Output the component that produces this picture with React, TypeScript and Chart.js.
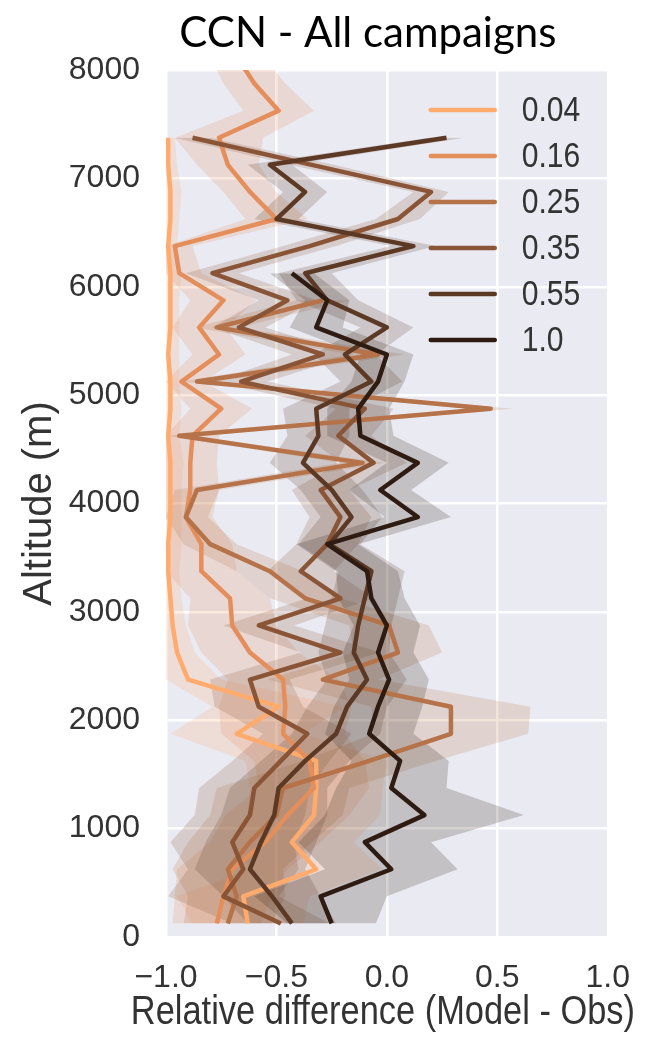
import React, { useEffect, useRef } from "react";
import { Chart, registerables } from "chart.js";

Chart.register(...registerables);

// ---------- texts ----------
const chartTitle = "CCN - All campaigns";
const xAxisTitle = "Relative difference (Model - Obs)";
const yAxisTitle = "Altitude (m)";

// ---------- data ----------
// altitude bin centres (m), lowest first
const altitudes = [
  125, 375, 625, 875, 1125, 1375, 1625, 1875, 2125, 2375, 2625, 2875, 3125,
  3375, 3625, 3875, 4125, 4375, 4625, 4875, 5125, 5375, 5625, 5875, 6125,
  6375, 6625, 6875, 7125, 7375, 7625, 7875, 8125,
];

const seriesNames = ["0.04", "0.16", "0.25", "0.35", "0.55", "1.0"];

// mean relative difference per altitude bin (lowest bin first)
const diff004 = [
  -0.63, -0.65, -0.32, -0.43, -0.33, -0.32, -0.32, -0.68, -0.49, -0.9, -0.95,
  -0.97, -0.98, -0.99, -0.99, -0.98, -0.98, -0.98, -0.99, -0.98, -0.98, -0.99,
  -0.98, -0.98, -0.98, -0.99, -0.98, -0.98, -0.99, -0.99,
];
const diff016 = [
  -0.77, -0.74, -0.7, -0.55, -0.45, -0.33, -0.35, -0.47, -0.46, -0.47, -0.62,
  -0.7, -0.71, -0.84, -0.84, -0.91, -0.89, -0.89, -0.88, -0.75, -0.93, -0.76,
  -0.85, -0.74, -0.94, -0.96, -0.5, -0.62, -0.72, -0.76, -0.49, -0.6, -0.68,
];
const diff025 = [
  -0.72, -0.68, -0.72, -0.62, -0.5, -0.47, -0.08, 0.29, 0.29, -0.29, 0.05,
  0.01, -0.37, -0.53, -0.8, -0.91, -0.86, -0.11, -0.94, 0.47, -0.86, -0.04,
  -0.77, -0.29,
];
const diff035 = [
  -0.48, -0.74, -0.65, -0.7, -0.62, -0.6, -0.48, -0.36, -0.58, -0.62, -0.21,
  -0.58, -0.21, -0.39, -0.27, -0.21, -0.3, -0.06, -0.22, -0.1, -0.66, -0.29,
  -0.67, -0.45, -0.79, -0.35, 0.05, 0.2, -0.34, -0.88,
];
const diff055 = [
  -0.43, -0.52, -0.62, -0.57, -0.51, -0.49, -0.37, -0.23, -0.18, -0.09, -0.15,
  -0.13, -0.1, -0.07, -0.26, -0.16, -0.25, -0.38, -0.31, -0.32, -0.07, -0.19,
  0.0, -0.27, -0.37, 0.12, -0.5, -0.37, -0.53, 0.27,
];
const diff100 = [
  -0.25, -0.3, 0.02, -0.1, 0.17, 0.02, 0.06, -0.08, -0.04, 0.01, -0.04, 0.0,
  -0.07, -0.09, -0.27, 0.14, -0.03, 0.14, -0.12, -0.13, -0.04, 0.0, -0.32,
  -0.27, -0.43,
];

// half-width of the shaded confidence band per altitude bin
const band004 = [
  0.25, 0.3, 0.3, 0.28, 0.3, 0.3, 0.32, 0.3, 0.3, 0.15, 0.08, 0.06, 0.05, 0.05,
  0.06, 0.05, 0.05, 0.06, 0.05, 0.05, 0.04, 0.05, 0.04, 0.04, 0.05, 0.04, 0.04,
  0.05, 0.04, 0.03,
];
const band016 = [
  0.2, 0.22, 0.25, 0.25, 0.28, 0.25, 0.25, 0.28, 0.3, 0.25, 0.22, 0.2, 0.18,
  0.16, 0.14, 0.12, 0.13, 0.12, 0.12, 0.14, 0.1, 0.12, 0.12, 0.15, 0.1, 0.08,
  0.14, 0.12, 0.14, 0.2, 0.16, 0.14, 0.12,
];
const band025 = [
  0.2, 0.22, 0.25, 0.28, 0.3, 0.3, 0.3, 0.35, 0.36, 0.25, 0.2, 0.18, 0.16, 0.15,
  0.12, 0.1, 0.1, 0.1, 0.06, 0.1, 0.08, 0.12, 0.1, 0.12,
];
const band035 = [
  0.22, 0.25, 0.25, 0.28, 0.25, 0.25, 0.22, 0.2, 0.2, 0.18, 0.18, 0.16, 0.15,
  0.15, 0.14, 0.14, 0.13, 0.15, 0.15, 0.13, 0.12, 0.14, 0.12, 0.13, 0.12, 0.12,
  0.1, 0.08, 0.1, 0.08,
];
const band055 = [
  0.2, 0.22, 0.25, 0.25, 0.24, 0.22, 0.2, 0.2, 0.18, 0.18, 0.16, 0.15, 0.15,
  0.15, 0.14, 0.14, 0.14, 0.15, 0.14, 0.15, 0.14, 0.14, 0.12, 0.14, 0.12, 0.1,
  0.1, 0.1, 0.1, 0.08,
];
const band100 = [
  0.2, 0.3, 0.3, 0.3, 0.45, 0.25, 0.22, 0.2, 0.2, 0.18, 0.16, 0.15, 0.15, 0.14,
  0.14, 0.15, 0.14, 0.14, 0.15, 0.14, 0.12, 0.12, 0.12, 0.1, 0.1,
];

const seriesValues = [diff004, diff016, diff025, diff035, diff055, diff100];
const seriesBands = [band004, band016, band025, band035, band055, band100];

// ---------- ticks ----------
const xTickValues = [-1, -0.5, 0, 0.5, 1];
const xTickLabels = ["\u22121.0", "\u22120.5", "0.0", "0.5", "1.0"];
const yTickValues = [0, 1000, 2000, 3000, 4000, 5000, 6000, 7000, 8000];
const yTickLabels = ["0", "1000", "2000", "3000", "4000", "5000", "6000", "7000", "8000"];

// ---------- styles ----------
const seriesRGB = [
  [255, 171, 109],
  [228, 142, 91],
  [182, 114, 72],
  [137, 85, 54],
  [91, 57, 36],
  [46, 28, 18],
];
const TEXT_COLOR = "#333333";
const PLOT_BG = "#EAEAF2";
const SANS = '"Liberation Sans", Arial, sans-serif';
const NARROWING = 0.86;

const rgb = (c: number[]) => `rgb(${c[0]},${c[1]},${c[2]})`;
const rgba = (c: number[], a: number) => `rgba(${c[0]},${c[1]},${c[2]},${a})`;

const plotBackground = {
  id: "plotBackground",
  beforeDraw(chart: any) {
    const { ctx, chartArea } = chart;
    ctx.save();
    ctx.fillStyle = PLOT_BG;
    ctx.fillRect(chartArea.left, chartArea.top, chartArea.width, chartArea.height);
    ctx.restore();
  },
};

// figure title and x-axis caption (drawn with slight horizontal narrowing like the reference)
const figureTexts = {
  id: "figureTexts",
  afterDraw(chart: any) {
    const { ctx, chartArea } = chart;
    ctx.save();
    ctx.font = `42px Lato, "Open Sans", sans-serif`;
    ctx.fillStyle = "#000000";
    ctx.textAlign = "center";
    ctx.textBaseline = "alphabetic";
    ctx.fillText(chartTitle, chartArea.left + chartArea.width / 2 - 19, chartArea.top - 23);

    ctx.font = `40px ${SANS}`;
    ctx.fillStyle = TEXT_COLOR;
    const w = ctx.measureText(xAxisTitle).width;
    ctx.fillText(xAxisTitle, chartArea.left + chartArea.width / 2 - 4, chartArea.bottom + 87, w * NARROWING);
    ctx.restore();
  },
};

const insideLegend = {
  id: "insideLegend",
  afterDraw(chart: any) {
    const { ctx, chartArea } = chart;
    ctx.save();
    ctx.font = `35px ${SANS}`;
    ctx.textBaseline = "middle";
    ctx.textAlign = "left";
    seriesNames.forEach((name, i) => {
      const y = chartArea.top + 40 + i * 46;
      ctx.strokeStyle = rgb(seriesRGB[i]);
      ctx.lineWidth = 4.5;
      ctx.lineCap = "round";
      ctx.beginPath();
      ctx.moveTo(chartArea.right - 177, y);
      ctx.lineTo(chartArea.right - 113, y);
      ctx.stroke();
      ctx.fillStyle = TEXT_COLOR;
      const w = ctx.measureText(name).width;
      ctx.fillText(name, chartArea.right - 86, y + 1, w * NARROWING);
    });
    ctx.restore();
  },
};

function buildDatasets() {
  const datasets: any[] = [];
  seriesValues.forEach((values, i) => {
    const band = seriesBands[i];
    const lower = values.map((v, k) => ({ x: Math.max(-1, v - band[k]), y: altitudes[k] }));
    const upper = values.map((v, k) => ({ x: v + band[k], y: altitudes[k] }));
    const line = values.map((v, k) => ({ x: v, y: altitudes[k] }));
    datasets.push({
      label: `${seriesNames[i]} low`,
      data: lower,
      borderWidth: 0,
      pointRadius: 0,
      fill: false,
      order: 20 - i,
    });
    datasets.push({
      label: `${seriesNames[i]} high`,
      data: upper,
      borderWidth: 0,
      pointRadius: 0,
      backgroundColor: rgba(seriesRGB[i], 0.2),
      fill: "-1",
      order: 20 - i,
    });
    datasets.push({
      label: seriesNames[i],
      data: line,
      borderColor: rgb(seriesRGB[i]),
      borderWidth: 4.5,
      borderJoinStyle: "round",
      pointRadius: 0,
      fill: false,
      order: 10 - i,
    });
  });
  return datasets;
}

export default function App() {
  const canvasRef = useRef<HTMLCanvasElement | null>(null);

  useEffect(() => {
    if (!canvasRef.current) return;
    const chart = new Chart(canvasRef.current, {
      type: "line",
      data: { datasets: buildDatasets() },
      plugins: [plotBackground, figureTexts, insideLegend],
      options: {
        animation: false,
        responsive: false,
        devicePixelRatio: 1,
        indexAxis: "y",
        events: [],
        layout: { padding: { left: 0, right: 43, top: 70, bottom: 0 } },
        plugins: {
          legend: { display: false },
          title: { display: false },
          tooltip: { enabled: false },
        },
        elements: { line: { tension: 0 } },
        scales: {
          x: {
            type: "linear",
            position: "bottom",
            min: -1,
            max: 1,
            border: { display: false },
            grid: { color: "#FFFFFF", lineWidth: 2.5, drawTicks: false },
            afterBuildTicks: (scale: any) => {
              scale.ticks = xTickValues.map((v) => ({ value: v }));
            },
            afterFit: (scale: any) => {
              scale.height = 100;
            },
            ticks: {
              autoSkip: false,
              maxRotation: 0,
              padding: 22,
              color: TEXT_COLOR,
              font: { family: SANS, size: 32 },
              callback: (v: any) => xTickLabels[xTickValues.indexOf(Number(v))],
            },
            title: { display: false },
          },
          y: {
            type: "linear",
            position: "left",
            min: 0,
            max: 8000,
            border: { display: false },
            grid: { color: "#FFFFFF", lineWidth: 2.5, drawTicks: false },
            afterBuildTicks: (scale: any) => {
              scale.ticks = yTickValues.map((v) => ({ value: v }));
            },
            afterFit: (scale: any) => {
              scale.width = 166;
            },
            ticks: {
              autoSkip: false,
              padding: 26,
              color: TEXT_COLOR,
              font: { family: SANS, size: 32 },
              callback: (v: any) => yTickLabels[yTickValues.indexOf(Number(v))],
            },
            title: {
              display: true,
              text: yAxisTitle,
              color: TEXT_COLOR,
              font: { family: SANS, size: 40 },
              padding: { top: 16, bottom: 0 },
            },
          },
        },
      },
    } as any);
    return () => chart.destroy();
  }, []);

  return (
    <div style={{ position: "absolute", left: 0, top: 0, width: 652, height: 1037, background: "#FFFFFF" }}>
      <canvas ref={canvasRef} width={652} height={1037} style={{ display: "block" }} />
    </div>
  );
}
